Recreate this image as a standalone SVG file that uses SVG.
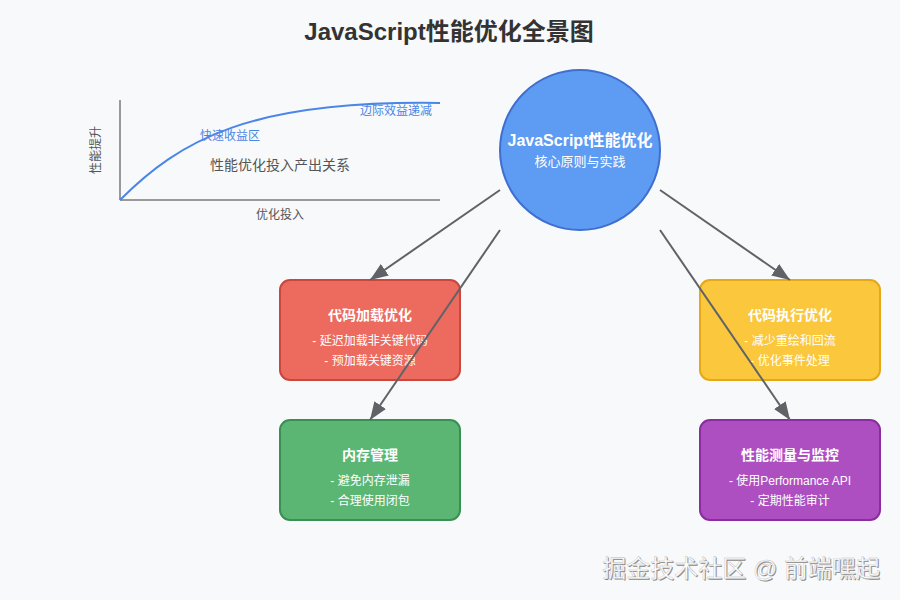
<svg xmlns="http://www.w3.org/2000/svg" width="900" height="600" viewBox="0 0 900 600">
<defs>
<marker id="arrow" viewBox="0 0 10 10" refX="10" refY="5" markerWidth="18" markerHeight="14" orient="auto" markerUnits="userSpaceOnUse" preserveAspectRatio="none">
<path d="M0,0 L10,5 L0,10 Z" fill="#5f6368"/>
</marker>
<style>
text{font-family:"Liberation Sans","Noto Sans CJK SC",sans-serif;}
.ttl{font-size:14px;font-weight:bold;fill:#fff;text-anchor:middle;}
.item{font-size:12px;fill:#fff;text-anchor:middle;}
.conn{stroke:#5f6368;stroke-width:2;fill:none;marker-end:url(#arrow);}
.box{stroke-width:2;}
</style>
</defs>
<rect width="900" height="600" fill="#f8f9fb"/>
<text x="449" y="40" font-size="24" font-weight="bold" fill="#333" text-anchor="middle">JavaScript性能优化全景图</text>

<g id="chart">
<line x1="120" y1="100" x2="120" y2="200" stroke="#999" stroke-width="2"/>
<line x1="120" y1="200" x2="440" y2="200" stroke="#999" stroke-width="2"/>
<path d="M120,200 C180,140 250,100 440,103" fill="none" stroke="#4a86e8" stroke-width="2"/>
<text x="200" y="140" font-size="12" fill="#4a86e8">快速收益区</text>
<text x="432" y="115" font-size="12" fill="#4a86e8" text-anchor="end">边际效益递减</text>
<text x="280" y="170" font-size="14" fill="#555" text-anchor="middle">性能优化投入产出关系</text>
<text x="280" y="219" font-size="12" fill="#555" text-anchor="middle">优化投入</text>
<text x="0" y="0" font-size="12" fill="#555" text-anchor="middle" transform="translate(100,150) rotate(-90)">性能提升</text>
</g>

<g id="core">
<circle cx="580" cy="150" r="80" fill="#5e9bf2" stroke="#3f6fcf" stroke-width="2"/>
<text x="580" y="146" font-size="16" font-weight="bold" fill="#fff" text-anchor="middle">JavaScript性能优化</text>
<text x="580" y="166" font-size="13" fill="#fff" text-anchor="middle">核心原则与实践</text>
</g>

<g id="load">
<rect class="box" x="280" y="280" width="180" height="100" rx="10" fill="#ec6a5e" stroke="#c9473d"/>
<text class="ttl" x="370" y="320">代码加载优化</text>
<text class="item" x="370" y="345">- 延迟加载非关键代码</text>
<text class="item" x="370" y="365">- 预加载关键资源</text>
</g>

<g id="memory">
<rect class="box" x="280" y="420" width="180" height="100" rx="10" fill="#5bb674" stroke="#3a8f52"/>
<text class="ttl" x="370" y="460">内存管理</text>
<text class="item" x="370" y="485">- 避免内存泄漏</text>
<text class="item" x="370" y="505">- 合理使用闭包</text>
</g>

<g id="exec">
<rect class="box" x="700" y="280" width="180" height="100" rx="10" fill="#fbc73c" stroke="#e5a917"/>
<text class="ttl" x="790" y="320">代码执行优化</text>
<text class="item" x="790" y="345">- 减少重绘和回流</text>
<text class="item" x="790" y="365">- 优化事件处理</text>
</g>

<g id="measure">
<rect class="box" x="700" y="420" width="180" height="100" rx="10" fill="#ad4fc0" stroke="#8a2da0"/>
<text class="ttl" x="790" y="460">性能测量与监控</text>
<text class="item" x="790" y="485">- 使用Performance API</text>
<text class="item" x="790" y="505">- 定期性能审计</text>
</g>

<g id="connectors">
<line class="conn" x1="500" y1="190" x2="370" y2="280"/>
<line class="conn" x1="500" y1="230" x2="370" y2="420"/>
<line class="conn" x1="660" y1="190" x2="790" y2="280"/>
<line class="conn" x1="660" y1="230" x2="790" y2="420"/>
</g>

<g id="watermark" font-size="24" text-anchor="end">
<text x="881" y="578" fill="#888">掘金技术社区 @ 前端嘿起</text>
<text x="880" y="577" fill="#fff" stroke="#bbb" stroke-width="0.4">掘金技术社区 @ 前端嘿起</text>
</g>
</svg>
